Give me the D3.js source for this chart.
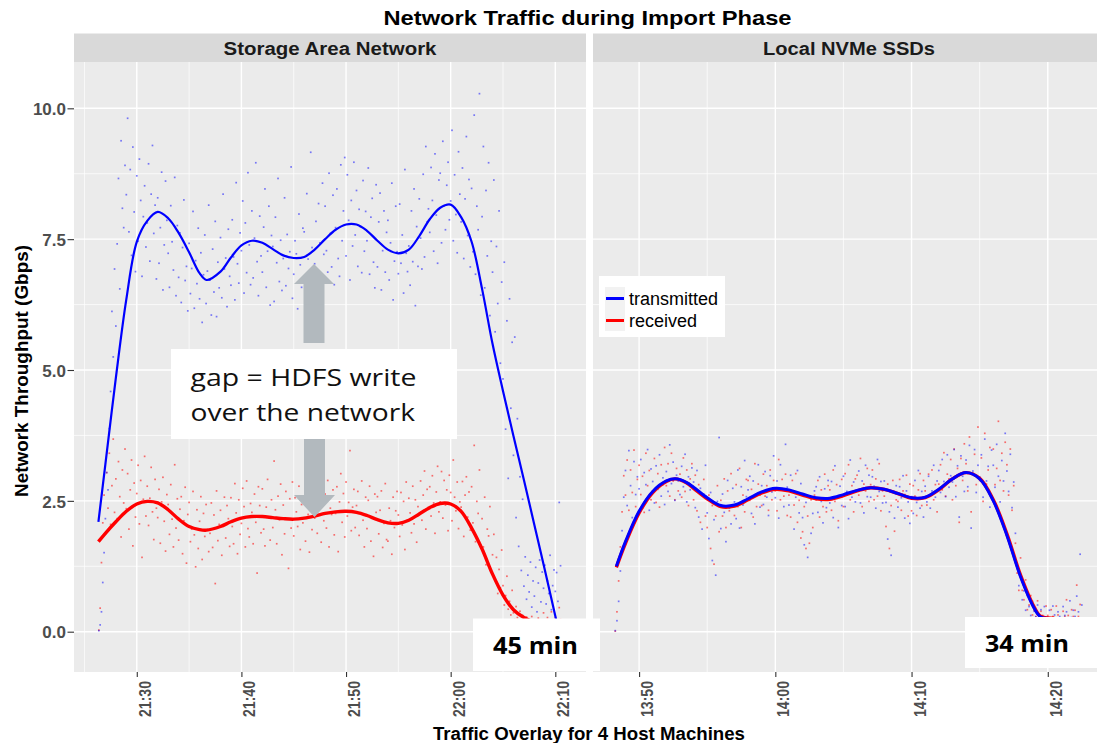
<!DOCTYPE html>
<html>
<head>
<meta charset="utf-8">
<script src="https://cdn.jsdelivr.net/npm/d3@7"></script>
<style>
  body { margin: 0; background: #fff; }
  svg { display: block; font-family: "Liberation Sans", Arial, sans-serif; }
</style>
</head>
<body>
<svg id="chart" width="1097" height="743"></svg>
<script>
// raw samples: one row per minute, 8 samples per row (every 7.5 s), Gbps
let sampleStep = 7.5;
let facetNames = ['Storage Area Network', 'Local NVMe SSDs'];
let seriesNames = ['transmitted', 'received'];
let yTicks = [0, 2.5, 5, 7.5, 10];
let sanTicks = ['21:30', '21:40', '21:50', '22:00', '22:10'];
let nvmeTicks = ['13:50', '14:00', '14:10', '14:20'];

let sanRowStart = '21:26:00';
let sanTx = [
  [null, null, null, 0.02, 0.13, 0.38, 0.94, 1.51],
  [2.16, 3.04, 2.71, 3.88, 4.59, 6.12, 5.25, 6.93],
  [5.84, 7.41, 8.66, 6.55, 9.38, 8.09, 7.72, 8.91],
  [8.35, 9.81, 7.64, 8.83, 7.19, 9.26, 8.02, 6.88],
  [8.71, 7.46, 9.03, 8.24, 6.79, 7.93, 8.52, 7.35],
  [7.81, 8.94, 7.08, 8.36, 9.29, 7.61, 8.15, 6.74],
  [8.29, 7.04, 7.72, 8.78, 6.53, 7.39, 8.61, 7.86],
  [7.23, 6.58, 8.14, 7.45, 6.91, 8.68, 6.42, 7.76],
  [6.77, 7.62, 6.29, 7.34, 8.25, 6.71, 6.98, 6.13],
  [7.42, 6.46, 6.94, 8.03, 6.18, 7.09, 6.65, 7.71],
  [6.36, 7.24, 5.91, 6.82, 7.58, 6.27, 6.89, 8.15],
  [6.72, 6.05, 7.31, 6.49, 7.84, 6.02, 7.06, 6.57],
  [7.53, 6.38, 8.36, 6.93, 7.14, 6.21, 7.69, 6.79],
  [6.62, 7.87, 7.16, 6.34, 8.58, 7.03, 6.66, 7.62],
  [7.28, 8.23, 6.47, 7.81, 6.86, 8.77, 7.39, 6.63],
  [8.04, 6.76, 7.52, 8.96, 7.07, 6.42, 7.94, 7.18],
  [6.87, 7.73, 8.46, 6.58, 7.27, 8.13, 6.24, 7.57],
  [7.36, 6.31, 7.92, 7.05, 8.66, 6.69, 7.48, 6.52],
  [7.13, 8.29, 6.61, 7.59, 6.94, 7.26, 8.88, 6.37],
  [6.83, 7.47, 7.22, 6.17, 7.98, 7.01, 6.58, 7.71],
  [7.64, 6.48, 8.37, 7.12, 6.76, 9.16, 7.34, 6.91],
  [7.03, 7.84, 6.68, 8.18, 7.43, 6.27, 8.57, 7.21],
  [8.13, 7.28, 6.87, 8.76, 7.61, 6.97, 8.34, 6.63],
  [7.72, 8.46, 7.13, 6.79, 8.92, 7.47, 8.04, 9.06],
  [7.18, 8.73, 7.86, 6.72, 8.24, 7.37, 8.97, 7.58],
  [8.43, 6.98, 8.07, 7.74, 6.86, 8.62, 7.27, 8.03],
  [7.47, 8.86, 6.83, 7.92, 8.28, 7.06, 6.57, 8.54],
  [6.97, 7.83, 8.38, 6.53, 7.28, 8.04, 6.87, 7.63],
  [7.86, 6.72, 7.43, 8.57, 6.34, 7.08, 8.13, 7.26],
  [6.84, 8.17, 7.04, 7.58, 6.47, 8.83, 7.23, 6.88],
  [7.37, 6.62, 8.04, 7.07, 8.46, 6.23, 7.74, 6.98],
  [8.27, 7.52, 6.93, 8.74, 7.16, 9.27, 7.83, 8.08],
  [7.63, 8.87, 8.24, 7.27, 9.13, 7.96, 7.04, 8.63],
  [8.76, 7.43, 9.37, 8.14, 7.68, 8.53, 8.97, 7.87],
  [8.23, 9.58, 7.47, 8.73, 7.97, 7.24, 9.17, 8.36],
  [7.83, 8.86, 7.13, 8.27, 9.46, 7.57, 8.64, 6.97],
  [8.47, 7.26, 9.87, 6.83, 8.13, 7.68, 10.28, 6.43],
  [7.93, 9.27, 6.57, 8.43, 7.18, 8.96, 6.04, 7.46],
  [6.87, 8.63, 5.73, 7.36, 6.27, 8.04, 5.13, 6.68],
  [4.83, 7.06, 3.87, 5.94, 2.93, 6.36, 4.27, 5.53],
  [3.37, 5.63, 2.18, 4.07, 1.63, 2.96, 1.17, 2.53],
  [0.87, 1.43, 0.62, 1.08, 0.76, 1.33, 0.47, 0.97],
  [0.68, 1.23, 0.38, 0.93, 1.37, 0.57, 1.14, 0.83],
  [1.27, 0.53, 0.97, 0.73, 1.46, 0.42, 0.88, 1.18],
  [0.77, 1.13, 0.58, 2.47, 1.26, null, null, null]
];
let sanRx = [
  [null, null, null, 0.03, 0.45, 1.32, 2.08, 2.61],
  [1.87, 3.04, 2.36, 3.41, 2.05, 2.79, 3.68, 2.28],
  [2.92, 2.16, 3.25, 2.58, 1.81, 3.09, 2.46, 3.49],
  [2.35, 3.02, 1.96, 2.71, 3.28, 1.64, 2.84, 2.19],
  [2.64, 3.18, 2.06, 2.89, 1.42, 2.53, 3.35, 2.21],
  [2.78, 2.03, 2.55, 3.14, 2.29, 1.76, 2.91, 2.36],
  [2.18, 2.72, 1.69, 2.48, 2.95, 2.11, 1.54, 2.62],
  [2.43, 1.86, 2.81, 2.15, 1.62, 3.19, 1.98, 2.54],
  [1.75, 2.34, 2.58, 1.49, 2.12, 2.76, 1.31, 2.24],
  [2.47, 1.72, 1.96, 2.68, 1.85, 1.24, 2.33, 1.59],
  [2.11, 2.58, 1.38, 2.26, 1.82, 2.43, 1.95, 1.53],
  [1.88, 2.46, 1.61, 2.23, 0.92, 2.69, 1.74, 2.05],
  [2.32, 1.46, 2.04, 2.57, 1.79, 2.41, 2.16, 1.63],
  [2.56, 2.01, 1.68, 2.83, 2.27, 1.49, 2.52, 1.86],
  [2.07, 2.74, 2.39, 1.62, 2.88, 1.97, 1.81, 2.45],
  [2.28, 1.68, 2.63, 2.09, 1.12, 2.77, 2.41, 1.89],
  [2.73, 1.96, 1.64, 2.38, 2.91, 2.18, 1.75, 2.52],
  [1.99, 3.26, 2.33, 1.68, 2.59, 2.14, 2.82, 1.47],
  [2.42, 1.87, 2.68, 2.15, 1.21, 2.54, 1.98, 2.86],
  [1.83, 2.56, 2.29, 2.01, 2.78, 1.57, 2.43, 2.08],
  [2.49, 1.73, 2.86, 2.24, 1.52, 2.63, 1.95, 2.31],
  [2.17, 2.82, 1.88, 2.43, 2.59, 1.71, 2.97, 2.12],
  [2.63, 1.98, 2.89, 1.62, 2.36, 2.24, 2.71, 1.85],
  [2.26, 2.77, 1.53, 2.48, 3.02, 2.09, 2.64, 1.81],
  [2.86, 2.21, 2.47, 3.46, 1.93, 2.38, 2.72, 1.99],
  [2.41, 2.68, 1.84, 2.27, 2.88, 2.13, 1.62, 2.57],
  [1.97, 2.51, 2.78, 1.73, 2.19, 1.44, 2.63, 2.28],
  [2.58, 1.87, 2.32, 2.69, 1.61, 2.07, 2.83, 1.76],
  [1.73, 2.36, 2.12, 1.48, 2.57, 1.99, 2.31, 2.68],
  [2.23, 1.82, 2.66, 2.04, 2.49, 1.57, 2.86, 2.13],
  [2.55, 2.27, 1.89, 2.78, 2.06, 2.52, 1.71, 2.39],
  [2.26, 2.88, 2.13, 2.61, 3.07, 1.96, 2.72, 2.38],
  [2.77, 2.21, 2.98, 2.46, 1.88, 2.67, 3.16, 2.29],
  [2.48, 3.06, 2.17, 2.89, 2.42, 2.71, 1.93, 2.99],
  [2.66, 2.12, 3.28, 2.57, 2.31, 2.86, 1.97, 2.48],
  [2.38, 2.87, 1.82, 2.61, 2.96, 2.19, 2.67, 1.94],
  [2.77, 2.08, 3.56, 1.72, 2.49, 2.26, 3.09, 1.63],
  [2.16, 1.62, 2.57, 1.28, 1.96, 1.83, 2.39, 1.14],
  [1.47, 1.86, 0.98, 1.42, 0.73, 1.19, 0.84, 1.56],
  [0.88, 0.51, 0.69, 1.06, 0.43, 0.58, 0.32, 0.79],
  [0.36, 0.23, 0.48, 0.27, 0.13, 0.39, 0.18, 0.31],
  [0.22, 0.12, 0.28, 0.16, 0.08, 0.21, 0.29, 0.14],
  [0.13, 0.18, 0.07, 0.26, 0.21, 0.11, 0.17, 0.36],
  [0.19, 0.09, 0.27, 0.12, 0.22, 0.38, 0.11, 0.19],
  [0.27, 0.13, 0.16, 0.46, 0.23, null, null, null]
];

let nvmeRowStart = '13:48:00';
let nvmeTx = [
  [null, null, 0.02, 0.21, 0.58, 1.16, 1.93, 2.57],
  [3.08, 2.41, 3.46, 2.79, 2.18, 3.25, 2.62, 2.96],
  [2.73, 3.29, 2.36, 3.04, 2.81, 3.48, 2.32, 3.11],
  [2.87, 2.46, 3.17, 2.72, 3.38, 2.59, 2.94, 2.43],
  [3.06, 2.68, 3.57, 2.83, 3.24, 2.51, 2.99, 2.88],
  [2.62, 3.16, 2.77, 3.39, 2.48, 2.96, 2.71, 3.13],
  [2.86, 2.37, 3.08, 2.19, 2.74, 1.96, 2.63, 3.18],
  [2.27, 1.78, 2.66, 1.36, 2.14, 1.08, 2.49, 3.71],
  [1.97, 2.63, 2.28, 1.72, 2.89, 2.36, 2.06, 2.74],
  [2.48, 2.16, 3.09, 1.98, 2.77, 2.42, 3.27, 2.58],
  [2.71, 2.97, 2.26, 2.88, 2.06, 2.63, 3.19, 2.38],
  [2.79, 2.43, 3.06, 2.57, 2.22, 2.98, 2.67, 3.36],
  [2.56, 2.88, 2.17, 3.19, 2.73, 2.39, 3.58, 2.76],
  [2.42, 2.99, 2.68, 1.96, 2.57, 3.08, 2.27, 2.83],
  [2.18, 1.66, 2.47, 1.42, 2.59, 1.88, 2.26, 2.69],
  [2.77, 2.28, 2.96, 2.49, 2.08, 2.73, 2.37, 2.89],
  [2.46, 2.87, 2.18, 3.17, 2.56, 1.99, 2.78, 2.41],
  [2.97, 2.39, 2.68, 2.16, 3.28, 2.57, 2.86, 2.48],
  [2.69, 3.07, 2.46, 2.88, 2.27, 3.18, 2.58, 2.99],
  [2.57, 2.96, 2.78, 2.36, 3.29, 2.68, 2.87, 2.46],
  [2.88, 2.47, 1.77, 2.29, 1.46, 2.68, 2.17, 2.79],
  [2.38, 2.77, 2.56, 2.98, 2.17, 2.69, 2.48, 2.07],
  [2.58, 2.26, 2.89, 2.47, 3.08, 2.36, 2.68, 2.19],
  [2.78, 2.48, 2.97, 2.36, 2.69, 3.18, 2.57, 2.88],
  [3.08, 2.66, 3.29, 2.87, 2.58, 3.38, 2.76, 2.98],
  [2.86, 3.48, 2.58, 3.17, 2.19, 3.36, 2.97, 2.68],
  [3.28, 2.77, 3.56, 1.98, 3.07, 3.48, 2.66, 3.18],
  [2.96, 3.38, 2.57, 3.68, 2.88, 3.16, 2.38, 3.47],
  [3.18, 2.76, 3.58, 2.97, 2.48, 3.27, 2.88, 3.79],
  [3.07, 2.68, 3.39, 2.37, 2.86, 1.88, 1.27, 0.88],
  [1.09, 0.61, 0.78, 0.41, 0.69, 0.48, 0.31, 0.58],
  [0.39, 0.28, 0.51, 0.19, 0.42, 0.27, 0.48, 0.21],
  [0.28, 0.41, 0.18, 0.49, 0.32, 0.22, 0.38, 0.29],
  [0.19, 0.48, 0.31, 0.38, 0.22, 0.59, 0.27, 0.41],
  [0.29, 0.68, 0.38, 1.48, 0.51, null, null, null]
];
let nvmeRx = [
  [null, null, 0.01, 0.38, 0.97, 1.62, 2.29, 2.98],
  [2.61, 3.28, 2.32, 3.09, 2.66, 3.47, 2.39, 2.91],
  [3.18, 2.62, 2.97, 2.28, 3.41, 2.79, 3.08, 2.52],
  [2.69, 3.31, 2.47, 3.02, 2.38, 3.19, 2.81, 3.52],
  [2.79, 3.21, 2.59, 3.41, 2.88, 2.52, 3.12, 2.69],
  [3.01, 2.57, 3.32, 2.68, 3.09, 2.41, 2.92, 3.21],
  [2.52, 2.99, 2.31, 2.81, 2.09, 2.62, 2.91, 2.21],
  [1.99, 2.61, 1.59, 2.41, 1.29, 2.21, 2.79, 1.91],
  [2.51, 2.21, 2.92, 1.99, 2.69, 2.31, 3.02, 2.41],
  [2.22, 2.81, 2.39, 3.12, 1.99, 2.61, 2.29, 2.91],
  [2.89, 2.51, 2.72, 2.19, 3.21, 2.39, 2.82, 2.61],
  [2.41, 3.01, 2.59, 2.79, 2.32, 3.09, 2.52, 2.89],
  [2.69, 2.31, 3.29, 2.52, 2.91, 2.59, 3.01, 2.22],
  [2.61, 2.19, 2.89, 2.42, 3.02, 2.09, 2.51, 1.79],
  [1.91, 2.39, 1.59, 2.21, 1.69, 2.52, 1.99, 2.61],
  [2.52, 2.89, 2.19, 2.71, 2.39, 3.01, 2.29, 2.79],
  [2.71, 2.32, 3.09, 2.49, 2.81, 2.12, 2.59, 2.91],
  [2.39, 3.02, 2.61, 3.19, 2.52, 2.79, 2.29, 2.92],
  [2.99, 2.61, 3.31, 2.39, 2.82, 2.69, 3.12, 2.49],
  [2.81, 3.09, 2.52, 2.92, 2.59, 3.21, 2.31, 2.69],
  [2.59, 2.01, 2.82, 1.59, 2.41, 2.89, 1.92, 2.52],
  [2.49, 2.91, 2.32, 2.69, 2.62, 2.99, 2.21, 2.82],
  [2.31, 2.79, 2.59, 2.22, 2.71, 3.02, 2.41, 2.89],
  [2.69, 2.42, 3.01, 2.59, 3.09, 2.52, 2.81, 2.29],
  [2.82, 3.19, 2.71, 3.42, 2.59, 3.01, 2.92, 3.29],
  [2.52, 3.49, 2.79, 3.12, 2.09, 3.31, 2.89, 3.59],
  [3.21, 2.69, 3.72, 2.29, 3.02, 3.39, 2.81, 3.91],
  [2.89, 3.32, 2.49, 3.79, 2.82, 3.09, 3.52, 2.59],
  [3.49, 2.81, 3.12, 4.02, 2.89, 3.41, 2.69, 3.62],
  [3.19, 2.61, 3.49, 2.32, 2.79, 1.69, 1.12, 0.79],
  [1.41, 0.79, 0.61, 0.99, 0.42, 0.51, 0.69, 0.32],
  [0.41, 0.29, 0.59, 0.21, 0.39, 0.31, 0.19, 0.49],
  [0.31, 0.19, 0.42, 0.29, 0.21, 0.49, 0.32, 0.19],
  [0.21, 0.39, 0.29, 0.61, 0.31, 0.19, 0.42, 0.29],
  [0.41, 0.89, 0.29, 0.52, 0.21, null, null, null]
];

// loess-like smooth
let sanSmoothTimes = ['21:26:20', '21:27:00', '21:28:00', '21:29:00', '21:30:00', '21:31:00', '21:32:00',
  '21:33:00', '21:34:00', '21:35:00', '21:36:00', '21:36:40', '21:38:00', '21:39:00', '21:40:00',
  '21:41:00', '21:42:00', '21:43:00', '21:44:00', '21:45:00', '21:46:00', '21:47:00', '21:48:00',
  '21:49:00', '21:50:00', '21:51:00', '21:52:00', '21:53:00', '21:54:00', '21:55:00', '21:56:00',
  '21:57:00', '21:58:00', '21:59:00', '22:00:00', '22:01:00', '22:02:00', '22:03:00', '22:04:00',
  '22:05:00', '22:06:00', '22:07:00', '22:08:00', '22:09:00', '22:10:00', '22:10:20'];
let sanTxSmooth = [2.1, 3.2, 4.85, 6.35, 7.45, 7.85, 8.02, 7.9, 7.62, 7.25, 6.85, 6.72, 6.88, 7.15, 7.38,
  7.47, 7.43, 7.31, 7.19, 7.14, 7.16, 7.3, 7.5, 7.68, 7.78, 7.78, 7.66, 7.47, 7.3, 7.23, 7.3,
  7.56, 7.88, 8.1, 8.16, 7.92, 7.45, 6.55, 5.5, 4.6, 3.74, 2.9, 2.04, 1.18, 0.3, 0.02];
let sanRxSmooth = [1.72, 1.88, 2.1, 2.3, 2.44, 2.49, 2.46, 2.33, 2.15, 2.01, 1.95, 1.94, 2.01, 2.1, 2.17,
  2.2, 2.2, 2.18, 2.16, 2.15, 2.17, 2.21, 2.26, 2.29, 2.3, 2.28, 2.22, 2.14, 2.08, 2.07, 2.13,
  2.25, 2.37, 2.45, 2.44, 2.3, 1.98, 1.58, 1.1, 0.7, 0.42, 0.27, 0.18, 0.14, 0.14, 0.15];

let nvmeSmoothTimes = ['13:48:20', '13:49:00', '13:50:00', '13:51:00', '13:52:00', '13:52:40', '13:53:30',
  '13:54:00', '13:55:00', '13:56:00', '13:57:00', '13:58:00', '13:59:00', '14:00:00', '14:01:00',
  '14:02:00', '14:03:00', '14:04:00', '14:05:00', '14:06:00', '14:07:00', '14:08:00', '14:09:00',
  '14:10:00', '14:11:00', '14:12:00', '14:13:00', '14:14:00', '14:15:00', '14:16:00', '14:17:00',
  '14:18:00', '14:19:00', '14:19:30', '14:20:30'];
let nvmeTxSmooth = [1.25, 1.72, 2.3, 2.68, 2.88, 2.92, 2.85, 2.76, 2.56, 2.41, 2.42, 2.54, 2.67, 2.74, 2.71,
  2.63, 2.56, 2.55, 2.62, 2.7, 2.75, 2.72, 2.64, 2.56, 2.57, 2.72, 2.92, 3.04, 2.92, 2.5, 1.84,
  1.05, 0.45, 0.28, 0.25];
let nvmeRxSmooth = [1.23, 1.69, 2.27, 2.66, 2.87, 2.92, 2.84, 2.74, 2.54, 2.39, 2.4, 2.52, 2.65, 2.72, 2.69,
  2.61, 2.54, 2.53, 2.6, 2.69, 2.75, 2.72, 2.64, 2.55, 2.56, 2.71, 2.92, 3.04, 2.93, 2.52, 1.87,
  1.08, 0.47, 0.29, 0.26];

let parseTime = d3.timeParse('%H:%M:%S');
let parseTick = d3.timeParse('%H:%M');

function rowsToPoints (rows, rowStart) {
  let t0 = parseTime(rowStart).getTime();
  let points = [];
  rows.forEach((row, i) => row.forEach((v, j) => {
    if (v !== null) points.push({ t: new Date(t0 + (i * 60 + j * sampleStep) * 1000), v: v });
  }));
  return points;
}

function smoothPoints (times, values) {
  return times.map((t, i) => ({ t: parseTime(t), v: values[i] }));
}

let panels = [
  {
    name: facetNames[0], domain: ['21:24:00', '22:12:56'], range: [74, 586], ticks: sanTicks,
    tx: rowsToPoints(sanTx, sanRowStart), rx: rowsToPoints(sanRx, sanRowStart),
    txLine: smoothPoints(sanSmoothTimes, sanTxSmooth), rxLine: smoothPoints(sanSmoothTimes, sanRxSmooth),
    txWidth: 2.2, rxWidth: 3.4
  },
  {
    name: facetNames[1], domain: ['13:46:37', '14:24:12'], range: [593, 1105], ticks: nvmeTicks,
    tx: rowsToPoints(nvmeTx, nvmeRowStart), rx: rowsToPoints(nvmeRx, nvmeRowStart),
    txLine: smoothPoints(nvmeSmoothTimes, nvmeTxSmooth), rxLine: smoothPoints(nvmeSmoothTimes, nvmeRxSmooth),
    txWidth: 3, rxWidth: 3.4
  }
];

let plotTop = 62;
let plotBottom = 672;
let stripTop = 33.5;
let blue = '#0000ff';
let red = '#ff0000';
let tickGrey = '#4d4d4d';

let svg = d3.select('#chart');

let yScale = d3.scaleLinear()
  .domain([-0.77, 10.885])
  .range([plotBottom, plotTop]);

panels.forEach((p, k) => {
  let xScale = d3.scaleTime()
    .domain(p.domain.map(parseTime))
    .range(p.range);
  let left = p.range[0];
  let right = p.range[1];
  let g = svg.append('g');

  g.append('rect')
    .attr('x', left).attr('y', plotTop)
    .attr('width', right - left).attr('height', plotBottom - plotTop)
    .attr('fill', '#ebebeb');

  // minor grid: half way between the major breaks
  let majors = p.ticks.map(parseTick);
  let [d0, d1] = xScale.domain();
  let minorsX = [];
  majors.forEach(t => {
    [-5, 5].forEach(m => {
      let mt = new Date(t.getTime() + m * 60000);
      if (mt > d0 && mt < d1 && !minorsX.some(o => +o === +mt)) minorsX.push(mt);
    });
  });
  let minorsY = [1.25, 3.75, 6.25, 8.75];

  g.selectAll('.minor-x').data(minorsX).enter().append('line')
    .attr('x1', d => xScale(d)).attr('x2', d => xScale(d))
    .attr('y1', plotTop).attr('y2', plotBottom)
    .attr('stroke', '#fff').attr('stroke-width', 0.7);
  g.selectAll('.minor-y').data(minorsY).enter().append('line')
    .attr('x1', left).attr('x2', right)
    .attr('y1', d => yScale(d)).attr('y2', d => yScale(d))
    .attr('stroke', '#fff').attr('stroke-width', 0.7);
  g.selectAll('.major-x').data(majors).enter().append('line')
    .attr('x1', d => xScale(d)).attr('x2', d => xScale(d))
    .attr('y1', plotTop).attr('y2', plotBottom)
    .attr('stroke', '#fff').attr('stroke-width', 1.4);
  g.selectAll('.major-y').data(yTicks).enter().append('line')
    .attr('x1', left).attr('x2', right)
    .attr('y1', d => yScale(d)).attr('y2', d => yScale(d))
    .attr('stroke', '#fff').attr('stroke-width', 1.4);

  svg.append('clipPath').attr('id', 'clip' + k)
    .append('rect')
    .attr('x', left).attr('y', plotTop)
    .attr('width', right - left).attr('height', plotBottom - plotTop);

  let inner = g.append('g').attr('clip-path', `url(#clip${k})`);

  // raw points, tiny and translucent like geom_point(alpha)
  inner.append('g').selectAll('rect')
    .data(p.rx)
    .enter().append('rect')
    .attr('x', d => xScale(d.t) - 0.85)
    .attr('y', d => yScale(d.v) - 0.85)
    .attr('width', 1.7).attr('height', 1.7)
    .attr('fill', red).attr('fill-opacity', 0.55);
  inner.append('g').selectAll('rect')
    .data(p.tx)
    .enter().append('rect')
    .attr('x', d => xScale(d.t) - 0.85)
    .attr('y', d => yScale(d.v) - 0.85)
    .attr('width', 1.7).attr('height', 1.7)
    .attr('fill', blue).attr('fill-opacity', 0.5);

  let line = d3.line()
    .x(d => xScale(d.t))
    .y(d => yScale(d.v))
    .curve(d3.curveCatmullRom.alpha(0.5));

  inner.append('path')
    .attr('d', line(p.rxLine))
    .attr('fill', 'none').attr('stroke', red)
    .attr('stroke-width', p.rxWidth).attr('stroke-linejoin', 'round');
  inner.append('path')
    .attr('d', line(p.txLine))
    .attr('fill', 'none').attr('stroke', blue)
    .attr('stroke-width', p.txWidth).attr('stroke-linejoin', 'round');

  // facet strip
  g.append('rect')
    .attr('x', left).attr('y', stripTop)
    .attr('width', right - left).attr('height', plotTop - stripTop)
    .attr('fill', '#d9d9d9');
  g.append('text')
    .attr('x', (left + right) / 2).attr('y', 55)
    .attr('text-anchor', 'middle')
    .attr('font-size', 17.5).attr('font-weight', 'bold')
    .attr('textLength', k === 0 ? 213 : 172)
    .attr('lengthAdjust', 'spacingAndGlyphs')
    .attr('fill', '#1a1a1a')
    .text(p.name);

  // x axis with rotated labels
  let xAxis = d3.axisBottom(xScale)
    .tickValues(majors)
    .tickFormat(d3.timeFormat('%H:%M'))
    .tickSize(5);
  let axisG = g.append('g')
    .attr('transform', `translate(0, ${plotBottom})`)
    .call(xAxis);
  axisG.select('.domain').remove();
  axisG.selectAll('line').attr('stroke', '#333').attr('stroke-width', 1.1);
  axisG.selectAll('text')
    .attr('transform', 'rotate(-90)')
    .attr('text-anchor', 'end')
    .attr('x', -9).attr('y', 13.5).attr('dy', 0)
    .attr('font-size', 16.5).attr('font-weight', 'bold')
    .attr('font-family', '"Liberation Sans", Arial, sans-serif')
    .attr('textLength', 36).attr('lengthAdjust', 'spacingAndGlyphs')
    .attr('fill', tickGrey);

  if (k === 0) {
    let yAxis = d3.axisLeft(yScale)
      .tickValues(yTicks)
      .tickFormat(d3.format('.1f'))
      .tickSize(6.5)
      .tickPadding(1.5);
    let yG = g.append('g')
      .attr('transform', `translate(${left}, 0)`)
      .call(yAxis);
    yG.select('.domain').remove();
    yG.selectAll('line').attr('stroke', '#333').attr('stroke-width', 1.1);
    yG.selectAll('text')
      .attr('dy', '0.37em')
      .attr('font-size', 17).attr('font-weight', 'bold')
      .attr('font-family', '"Liberation Sans", Arial, sans-serif')
      .attr('fill', tickGrey);
  }
});

// titles
svg.append('text')
  .attr('x', 587.5).attr('y', 25)
  .attr('text-anchor', 'middle')
  .attr('font-size', 21).attr('font-weight', 'bold')
  .attr('textLength', 408).attr('lengthAdjust', 'spacingAndGlyphs')
  .text('Network Traffic during Import Phase');

svg.append('text')
  .attr('x', 589).attr('y', 740)
  .attr('text-anchor', 'middle')
  .attr('font-size', 17.5).attr('font-weight', 'bold')
  .attr('textLength', 312).attr('lengthAdjust', 'spacingAndGlyphs')
  .text('Traffic Overlay for 4 Host Machines');

svg.append('text')
  .attr('transform', 'translate(28, 371) rotate(-90)')
  .attr('text-anchor', 'middle')
  .attr('font-size', 18.5).attr('font-weight', 'bold')
  .attr('textLength', 252).attr('lengthAdjust', 'spacingAndGlyphs')
  .text('Network Throughput (Gbps)');

// legend
let legend = svg.append('g');
legend.append('rect')
  .attr('x', 599).attr('y', 276).attr('width', 126).attr('height', 61)
  .attr('fill', '#fff');
seriesNames.forEach((name, i) => {
  let ky = 287 + i * 22;
  legend.append('rect')
    .attr('x', 605).attr('y', ky).attr('width', 20).attr('height', 22)
    .attr('fill', '#f2f2f2');
  legend.append('line')
    .attr('x1', 606).attr('x2', 624)
    .attr('y1', ky + 11.5).attr('y2', ky + 11.5)
    .attr('stroke', i === 0 ? blue : red).attr('stroke-width', 3);
  legend.append('text')
    .attr('x', 629).attr('y', ky + 18)
    .attr('font-size', 18)
    .text(name);
});

// slide annotations
let grey = '#b2b9be';
let note = svg.append('g').attr('font-family', '"Open Sans", "Noto Sans", sans-serif');

note.append('path')
  .attr('d', 'M303.5,343 L303.5,284 L294,284 L314,264 L334,284 L324.5,284 L324.5,343 Z')
  .attr('fill', grey);
note.append('path')
  .attr('d', 'M304,439 L304,495 L294,495 L314.5,517 L335,495 L325,495 L325,439 Z')
  .attr('fill', grey);

note.append('rect')
  .attr('x', 171).attr('y', 349).attr('width', 286).attr('height', 90)
  .attr('fill', '#fff');
note.append('text')
  .attr('x', 190.5).attr('y', 386)
  .attr('font-size', 23.5).attr('fill', '#111')
  .attr('textLength', 226).attr('lengthAdjust', 'spacingAndGlyphs')
  .text('gap = HDFS write');
note.append('text')
  .attr('x', 190.5).attr('y', 421)
  .attr('font-size', 23.5).attr('fill', '#111')
  .attr('textLength', 224.5).attr('lengthAdjust', 'spacingAndGlyphs')
  .text('over the network');

note.append('rect')
  .attr('x', 473).attr('y', 618.5).attr('width', 127).attr('height', 52.5)
  .attr('fill', '#fff');
note.append('text')
  .attr('x', 493).attr('y', 654)
  .attr('font-size', 24).attr('font-weight', 'bold')
  .attr('textLength', 85).attr('lengthAdjust', 'spacingAndGlyphs')
  .text('45 min');

note.append('rect')
  .attr('x', 965).attr('y', 617).attr('width', 140).attr('height', 51)
  .attr('fill', '#fff');
note.append('text')
  .attr('x', 985).attr('y', 651.7)
  .attr('font-size', 24).attr('font-weight', 'bold')
  .attr('textLength', 84).attr('lengthAdjust', 'spacingAndGlyphs')
  .text('34 min');
</script>
</body>
</html>
